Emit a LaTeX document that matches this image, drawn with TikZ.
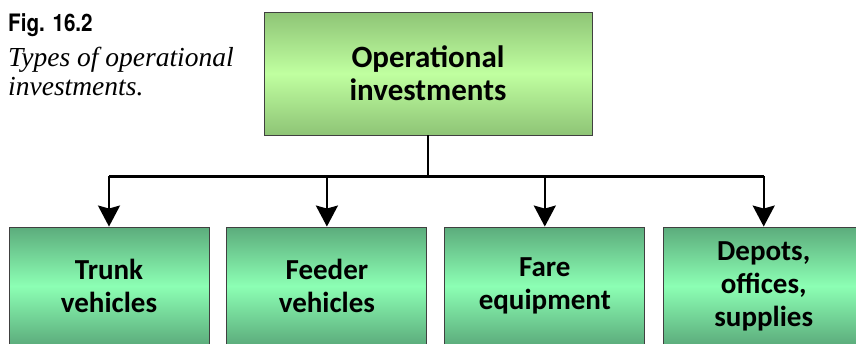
\documentclass[tikz,border=0pt]{standalone}
\usepackage{fontspec}
\setmainfont{Carlito}
\newfontfamily\figfont[FakeStretch=0.86]{TeX Gyre Heros}
\newfontfamily\capfont{Liberation Serif}
\usetikzlibrary{arrows.meta, positioning, calc}
\definecolor{topedge}{RGB}{142,196,118}
\definecolor{topmid}{RGB}{192,255,160}
\definecolor{leafedge}{RGB}{92,172,124}
\definecolor{leafmid}{RGB}{140,255,180}
\tikzset{
  rootbox/.style = {draw=black!75, line width=0.9pt, rectangle,
                    minimum width=328pt, minimum height=123pt,
                    top color=topedge, bottom color=topedge, middle color=topmid,
                    align=center, font=\bfseries\fontsize{31}{33}\selectfont},
  leafbox/.style = {draw=black!75, line width=0.9pt, rectangle,
                    minimum width=200pt, minimum height=118pt,
                    top color=leafedge, bottom color=leafedge, middle color=leafmid,
                    align=center, font=\bfseries\fontsize{29}{33}\selectfont},
  wire/.style    = {line width=2.2pt, black},
  >={Stealth[length=21pt, width=22pt, inset=3pt]}
}

\begin{document}
\begin{tikzpicture}[x=1pt, y=-1pt]

  \useasboundingbox (0,0) rectangle (856,343);
  \clip (0,0) rectangle (856,343);

  %%──────────────────────────────────────────────────────────────────────────
  %%  CAPTION
  %%──────────────────────────────────────────────────────────────────────────
  \node[anchor=base west, inner sep=0pt, font=\figfont\bfseries\fontsize{24}{28}\selectfont]
        (fig) at (8,31) {Fig. 16.2};
  %% multi-line node: base anchor sits on the last line
  \node[anchor=base west, inner sep=0pt, align=left,
        font=\capfont\itshape\fontsize{27.5}{29}\selectfont]
        (cap) at (8,95) {Types of operational\\investments.};

  %%──────────────────────────────────────────────────────────────────────────
  %%  ROOT AND LEAF NODES
  %%──────────────────────────────────────────────────────────────────────────
  \node[rootbox]                         (root)   at (428,73.5) {Operational\\investments};
  \node[leafbox]                         (trunk)  at (109,286)  {Trunk\\vehicles};
  \node[leafbox, right=17pt of trunk]    (feeder) {Feeder\\vehicles};
  \node[leafbox, right=17pt of feeder]   (fare)   {Fare\\equipment};
  \node[leafbox, right=18pt of fare]     (depot)  {Depots,\\offices,\\supplies};

  %%──────────────────────────────────────────────────────────────────────────
  %%  BRANCHING WIRES
  %%──────────────────────────────────────────────────────────────────────────
  \coordinate (bus) at ($(root.south)+(0,41)$);

  \draw[wire] (root.south) -- (bus);
  \draw[wire] (trunk.north |- bus) -- (depot.north |- bus);

  \draw[wire, ->] (trunk.north  |- bus) -- (trunk.north);
  \draw[wire, ->] (feeder.north |- bus) -- (feeder.north);
  \draw[wire, ->] (fare.north   |- bus) -- (fare.north);
  \draw[wire, ->] (depot.north  |- bus) -- (depot.north);

\end{tikzpicture}
\end{document}
